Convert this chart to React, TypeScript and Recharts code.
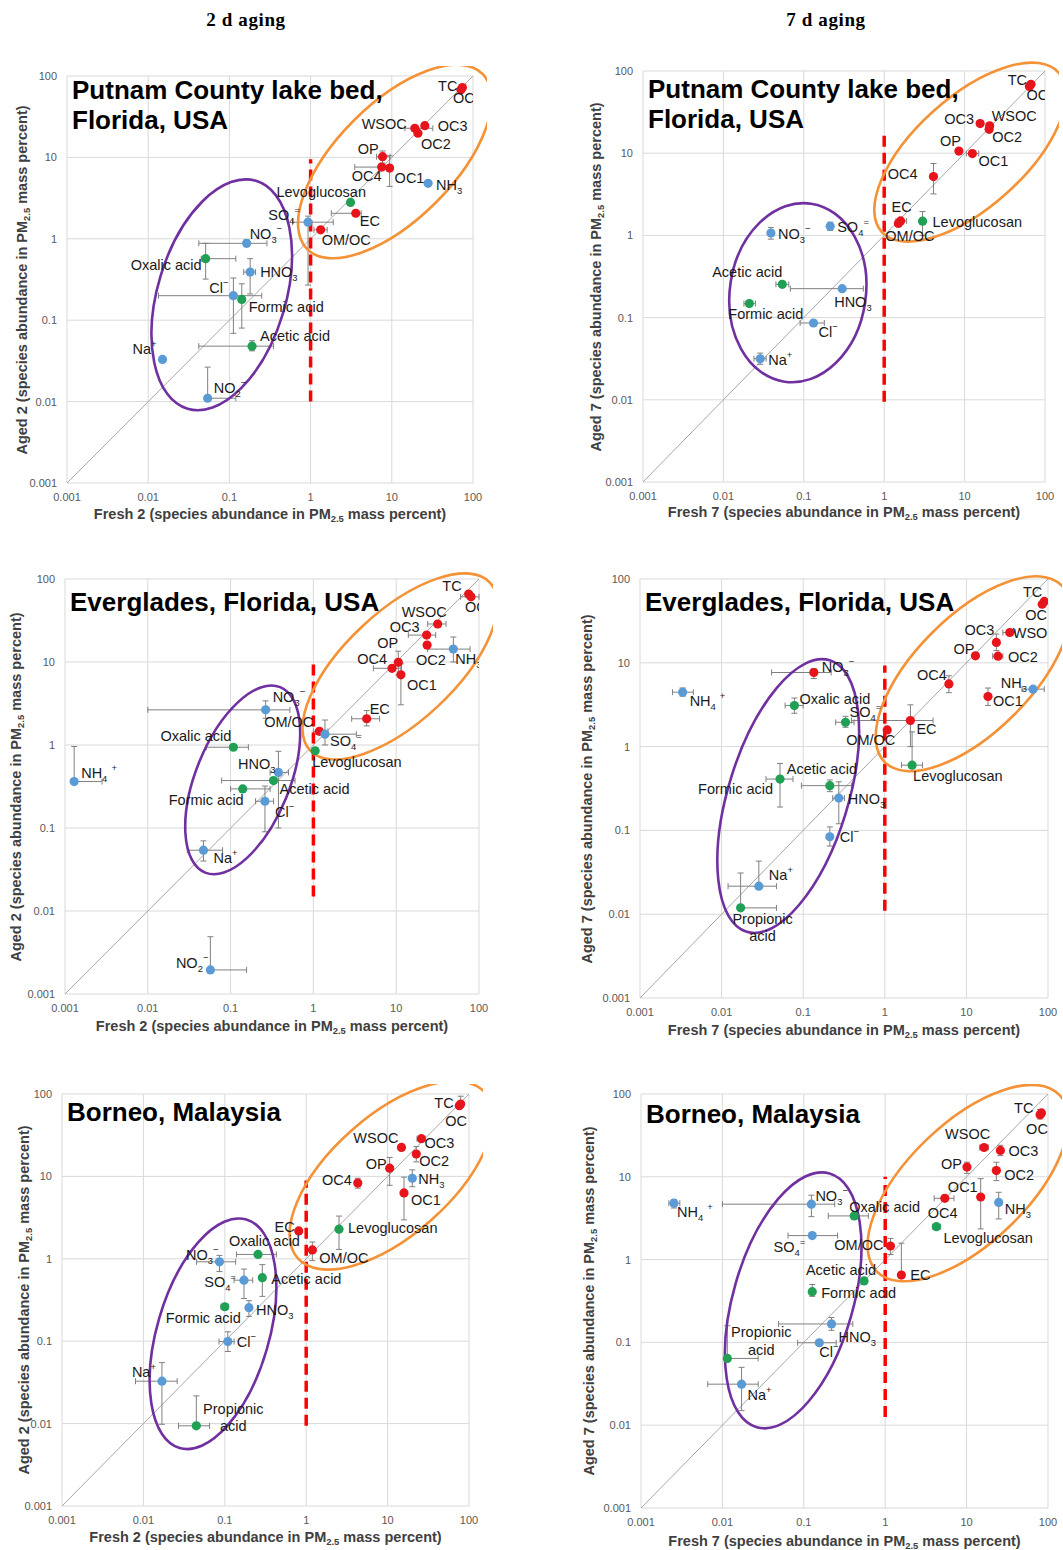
import React from "react";
import {
  ScatterChart,
  Scatter,
  XAxis,
  YAxis,
  CartesianGrid,
  ReferenceLine,
  ReferenceDot,
  ErrorBar,
} from "recharts";

// c = carbon fractions (red), i = ions (blue), a = organic acids / levoglucosan (green)
type Group = "c" | "i" | "a";
type Range = [number, number];

const TICKS = [0.001, 0.01, 0.1, 1, 10, 100];

// ---------- Putnam County, 2 d ----------
const p1Names = ["TC", "OC", "WSOC", "OC3", "OC2", "OP", "OC4", "OC1", "NH3", "Levoglucosan", "EC", "SO4=", "OM/OC", "NO3-", "Oxalic acid", "HNO3", "Cl-", "Formic acid", "Acetic acid", "Na+", "NO2-"];
const p1Fresh = [74, 71, 19.2, 25.5, 21, 7.7, 7.5, 9.4, 28, 3.1, 3.6, 0.93, 1.33, 0.163, 0.051, 0.18, 0.112, 0.142, 0.19, 0.015, 0.054];
const p1Aged = [72, 68, 22.8, 24.5, 19.8, 10.2, 7.6, 7.4, 4.8, 2.8, 2.06, 1.6, 1.29, 0.88, 0.57, 0.39, 0.2, 0.18, 0.048, 0.033, 0.011];
const p1Groups: Group[] = ["c", "c", "c", "c", "c", "c", "c", "c", "i", "a", "c", "i", "c", "i", "a", "i", "i", "a", "a", "i", "i"];
const p1FreshRange: Record<string, Range> = { WSOC: [14.5, 32], OP: [6.5, 9.5], OC4: [3.5, 10], EC: [1.8, 4.2], "SO4=": [0.6, 1.9], "OM/OC": [1.1, 1.6], "NO3-": [0.042, 0.29], "Oxalic acid": [0.045, 0.12], HNO3: [0.15, 0.21], "Cl-": [0.0134, 0.25], "Acetic acid": [0.042, 0.35], "NO2-": [0.05, 0.12] };
const p1AgedRange: Record<string, Range> = { OP: [8.5, 12], OC1: [4.4, 10.5], "SO4=": [0.27, 1.9], "NO3-": [0.8, 0.97], "Oxalic acid": [0.32, 0.88], HNO3: [0.21, 0.57], "Cl-": [0.069, 0.33], "Formic acid": [0.08, 0.28], "Acetic acid": [0.042, 0.056], "NO2-": [0.011, 0.0265] };

// ---------- Putnam County, 7 d ----------
const p2Names = ["TC", "OC", "OC3", "WSOC", "OC2", "OP", "OC1", "OC4", "EC", "OM/OC", "Levoglucosan", "NO3-", "SO4=", "Acetic acid", "HNO3", "Formic acid", "Cl-", "Na+"];
const p2Fresh = [67, 64, 15.6, 20.5, 20.2, 8.5, 12.5, 4.1, 1.6, 1.5, 3.0, 0.039, 0.213, 0.054, 0.3, 0.021, 0.132, 0.0287];
const p2Aged = [69, 65, 22.9, 21.5, 19.5, 10.6, 9.9, 5.2, 1.5, 1.4, 1.49, 1.07, 1.29, 0.254, 0.225, 0.148, 0.086, 0.0316];
const p2Groups: Group[] = ["c", "c", "c", "c", "c", "c", "c", "c", "c", "c", "a", "i", "i", "a", "i", "a", "i", "i"];
const p2FreshRange: Record<string, Range> = { OC1: [10.5, 15], EC: [1.4, 1.9], "Acetic acid": [0.045, 0.065], HNO3: [0.068, 0.55], "Formic acid": [0.018, 0.025], "Cl-": [0.09, 0.18], "Na+": [0.024, 0.034] };
const p2AgedRange: Record<string, Range> = { OC4: [3.2, 7.5], Levoglucosan: [1.0, 1.95], "NO3-": [0.9, 1.25], "SO4=": [1.15, 1.45], "Na+": [0.027, 0.037] };

// ---------- Everglades, 2 d ----------
const p3Names = ["TC", "OC", "WSOC", "OC3", "OC2", "NH3", "OP", "OC4", "OC1", "EC", "OM/OC", "SO4=", "Levoglucosan", "NO3-", "Oxalic acid", "HNO3", "Acetic acid", "Formic acid", "Cl-", "Na+", "NH4+", "NO2-"];
const p3Fresh = [75, 80, 31.7, 23.3, 23.6, 49, 10.6, 8.9, 11.4, 4.4, 1.18, 1.38, 1.05, 0.265, 0.108, 0.378, 0.33, 0.14, 0.26, 0.047, 0.00129, 0.057];
const p3Aged = [66, 61, 28.7, 21.1, 16, 14.3, 9.9, 8.4, 7.0, 2.07, 1.46, 1.35, 0.85, 2.65, 0.94, 0.467, 0.373, 0.296, 0.21, 0.054, 0.363, 0.00195];
const p3Groups: Group[] = ["c", "c", "c", "c", "c", "i", "c", "c", "c", "c", "c", "i", "a", "i", "a", "i", "a", "a", "i", "i", "i", "i"];
const p3FreshRange: Record<string, Range> = { OC: [60, 100], WSOC: [24, 40], OC3: [14, 30], NH3: [24, 78], OC4: [5.3, 11.6], EC: [2.9, 6.3], "OM/OC": [1.0, 1.5], "SO4=": [1.0, 3.3], "NO3-": [0.01, 0.52], "Oxalic acid": [0.051, 0.164], HNO3: [0.3, 0.5], "Acetic acid": [0.078, 0.6], "Formic acid": [0.1, 0.3], "Cl-": [0.2, 0.33], "Na+": [0.03, 0.08], "NH4+": [0.00129, 0.0028], "NO2-": [0.057, 0.156] };
const p3AgedRange: Record<string, Range> = { NH3: [10, 20], OP: [7, 13.5], OC1: [3.05, 9.5], EC: [1.7, 2.6], "SO4=": [1.0, 2.0], "NO3-": [2.1, 3.4], HNO3: [0.1, 0.84], "Cl-": [0.09, 0.32], "Na+": [0.04, 0.07], "NH4+": [0.363, 0.96], "NO2-": [0.00195, 0.0049] };

// ---------- Everglades, 7 d ----------
const p4Names = ["TC", "OC", "WSOC", "OC3", "OP", "OC2", "OC4", "NH3", "OC1", "EC", "OM/OC", "SO4=", "Levoglucosan", "NO3-", "NH4+", "Oxalic acid", "Formic acid", "Acetic acid", "HNO3", "Cl-", "Na+", "Propionic acid"];
const p4Fresh = [90, 85, 34, 23.3, 12.9, 24.4, 6.1, 65.5, 18.4, 2.06, 1.07, 0.33, 2.16, 0.135, 0.00333, 0.078, 0.052, 0.212, 0.273, 0.212, 0.0286, 0.0171];
const p4Aged = [54, 50, 23, 17.5, 12.1, 12.0, 5.6, 4.85, 3.96, 2.05, 1.58, 1.95, 0.6, 7.66, 4.46, 3.09, 0.41, 0.342, 0.243, 0.084, 0.0216, 0.0119];
const p4Groups: Group[] = ["c", "c", "c", "c", "c", "c", "c", "i", "c", "c", "c", "a", "a", "c", "i", "a", "a", "a", "i", "i", "i", "a"];
const p4FreshRange: Record<string, Range> = { WSOC: [28, 40], OC2: [21, 28], NH3: [48, 90], EC: [0.39, 3.9], "SO4=": [0.25, 0.42], Levoglucosan: [1.6, 2.9], "NO3-": [0.041, 0.22], "NH4+": [0.0025, 0.0045], "Oxalic acid": [0.06, 0.1], "Formic acid": [0.035, 0.075], "Acetic acid": [0.095, 0.39], HNO3: [0.23, 0.32], "Na+": [0.012, 0.047], "Propionic acid": [0.0171, 0.047] };
const p4AgedRange: Record<string, Range> = { OC3: [14, 22], OC4: [4.4, 7], OC1: [3.1, 5.0], EC: [1.0, 3.15], "SO4=": [1.7, 2.3], Levoglucosan: [0.6, 1.5], "NO3-": [6.5, 8.5], "NH4+": [4.0, 5.0], "Oxalic acid": [2.5, 3.8], "Formic acid": [0.19, 0.63], "Acetic acid": [0.29, 0.4], HNO3: [0.12, 0.38], "Cl-": [0.065, 0.11], "Na+": [0.0216, 0.043], "Propionic acid": [0.0119, 0.031] };

// ---------- Borneo, 2 d ----------
const p5Names = ["TC", "OC", "WSOC", "OC3", "OC2", "OP", "NH3", "OC4", "OC1", "Levoglucosan", "EC", "OM/OC", "NO3-", "Oxalic acid", "SO4=", "Acetic acid", "Formic acid", "HNO3", "Cl-", "Na+", "Propionic acid"];
const p5Fresh = [79, 76, 14.8, 26, 22.5, 10.6, 20.1, 4.3, 15.9, 2.53, 0.81, 1.19, 0.086, 0.256, 0.172, 0.289, 0.1, 0.198, 0.109, 0.0169, 0.0447];
const p5Aged = [75.5, 72, 22.5, 28.7, 18.7, 12.6, 9.5, 8.3, 6.3, 2.29, 2.18, 1.28, 0.92, 1.13, 0.55, 0.59, 0.262, 0.255, 0.099, 0.0327, 0.0094];
const p5Groups: Group[] = ["c", "c", "c", "c", "c", "c", "i", "c", "c", "a", "c", "c", "i", "a", "i", "a", "a", "i", "i", "i", "a"];
const p5FreshRange: Record<string, Range> = { OC3: [23, 29], "NO3-": [0.045, 0.136], "Oxalic acid": [0.139, 0.43], "SO4=": [0.13, 0.22], "Formic acid": [0.09, 0.11], "Cl-": [0.085, 0.13], "Na+": [0.008, 0.026], "Propionic acid": [0.027, 0.065] };
const p5AgedRange: Record<string, Range> = { TC: [75.5, 94], OC2: [15, 23], OP: [7.8, 17], NH3: [7.5, 12], OC4: [7.2, 9.5], OC1: [2.97, 9.8], Levoglucosan: [1.3, 3.3], "OM/OC": [0.95, 1.6], "NO3-": [0.7, 1.1], "SO4=": [0.33, 0.75], "Acetic acid": [0.35, 0.85], HNO3: [0.2, 0.31], "Cl-": [0.075, 0.13], "Na+": [0.0098, 0.055], "Propionic acid": [0.0094, 0.0217] };

// ---------- Borneo, 7 d ----------
const p6Names = ["TC", "OC", "WSOC", "OC3", "OP", "OC2", "OC1", "OC4", "NH3", "Levoglucosan", "OM/OC", "EC", "NH4+", "NO3-", "Oxalic acid", "SO4=", "Acetic acid", "Formic acid", "HNO3", "Cl-", "Propionic acid", "Na+"];
const p6Fresh = [83, 80, 16.4, 26, 10.1, 23.2, 14.9, 5.4, 24.8, 4.26, 1.16, 1.58, 0.00254, 0.124, 0.416, 0.127, 0.55, 0.127, 0.219, 0.155, 0.0115, 0.0172];
const p6Aged = [59, 56, 22.6, 20.8, 13.1, 11.9, 5.7, 5.5, 4.9, 2.5, 1.46, 0.65, 4.8, 4.67, 3.37, 1.95, 0.552, 0.41, 0.167, 0.099, 0.064, 0.0313];
const p6Groups: Group[] = ["c", "c", "c", "c", "c", "c", "c", "c", "i", "a", "c", "c", "i", "i", "a", "i", "a", "a", "i", "i", "a", "i"];
const p6FreshRange: Record<string, Range> = { WSOC: [14.5, 18.5], OC4: [4, 7], Levoglucosan: [3.8, 4.8], "NH4+": [0.0022, 0.003], "NO3-": [0.01, 0.24], "Oxalic acid": [0.2, 0.62], "SO4=": [0.064, 0.26], HNO3: [0.049, 0.4], "Cl-": [0.084, 0.25], "Propionic acid": [0.0115, 0.0275], "Na+": [0.0066, 0.0275] };
const p6AgedRange: Record<string, Range> = { OC: [50, 65], OC3: [18, 24], OP: [11, 15], OC2: [9, 15], OC1: [2.35, 9.5], NH3: [3.1, 6.5], "OM/OC": [1.15, 1.8], EC: [0.65, 1.58], "NH4+": [4.2, 5.3], "NO3-": [3.3, 6.0], "Formic acid": [0.36, 0.5], HNO3: [0.14, 0.2], "Propionic acid": [0.064, 0.159], "Na+": [0.015, 0.05] };

// how a species name is typeset (_x subscript, ^x superscript)
const LABEL_TEXT: Record<string, string> = {
  NH3: "NH_3",
  "NH4+": "NH_4 ^+",
  "NO3-": "NO_3^-",
  "NO2-": "NO_2^-",
  "SO4=": "SO_4^=",
  HNO3: "HNO_3",
  "Na+": "Na^+",
  "Cl-": "Cl^-",
  "Propionic acid": "Propionic\nacid",
};

const COLORS: Record<Group, string> = { c: "#e8141c", i: "#5b9bd5", a: "#1fa055" };

type Off = [number, number, "s" | "e" | "m"];

const p1Labels: Record<string, Off> = { TC: [-5, -2, "e"], OC: [-8, 8, "s"], WSOC: [-8, -4, "e"], OC3: [13, 0, "s"], OC2: [3, 11, "s"], OP: [-4, -8, "e"], OC4: [0, 9, "e"], OC1: [5, 10, "s"], NH3: [8, 2, "s"], Levoglucosan: [-74, -10, "s"], EC: [4, 8, "s"], "SO4=": [-8, -7, "e"], "OM/OC": [1, 10, "s"], "NO3-": [3, -9, "s"], "Oxalic acid": [-4, 6, "e"], HNO3: [10, 0, "s"], "Cl-": [-5, -8, "e"], "Formic acid": [7, 8, "s"], "Acetic acid": [8, -10, "s"], "Na+": [-6, -10, "e"], "NO2-": [6, -10, "s"] };
const p2Labels: Record<string, Off> = { TC: [-4, -4, "e"], OC: [-3, 9, "s"], OC3: [-6, -5, "e"], WSOC: [2, -10, "s"], OC2: [3, 8, "s"], OP: [2, -10, "e"], OC1: [6, 7, "s"], OC4: [-16, -3, "e"], EC: [-9, -14, "s"], "OM/OC": [-13, 13, "s"], Levoglucosan: [10, 1, "s"], "NO3-": [7, 1, "s"], "SO4=": [7, 1, "s"], "Acetic acid": [0, -12, "e"], HNO3: [-8, 13, "s"], "Formic acid": [-21, 10, "s"], "Cl-": [5, 9, "s"], "Na+": [8, 1, "s"] };
const p3Labels: Record<string, Off> = { TC: [-7, -8, "e"], OC: [-6, 10, "s"], WSOC: [-36, -12, "s"], OC3: [-7, -8, "e"], OC2: [-11, 15, "s"], OP: [0, -19, "e"], OC4: [-5, -9, "e"], NH3: [2, 10, "s"], OC1: [6, 10, "s"], EC: [3, -10, "s"], "OM/OC": [-6, -9, "e"], "SO4=": [5, 7, "s"], Levoglucosan: [-3, 11, "s"], "NO3-": [7, -13, "s"], "Oxalic acid": [-2, -11, "e"], HNO3: [-3, -8, "e"], "Acetic acid": [6, 8, "s"], "Formic acid": [1, 11, "e"], "Cl-": [10, 11, "s"], "Na+": [10, 8, "s"], "NH4+": [7, -9, "s"], "NO2-": [-2, -7, "e"] };
const p4Labels: Record<string, Off> = { TC: [-2, -9, "e"], OC: [-17, 11, "s"], OC3: [-2, -12, "e"], WSOC: [3, 1, "s"], OP: [-1, -7, "e"], OC2: [10, 1, "s"], OC4: [-2, -9, "e"], NH3: [-6, -6, "e"], OC1: [5, 4, "s"], EC: [6, 9, "s"], "OM/OC": [-41, 10, "s"], "SO4=": [4, -10, "s"], Levoglucosan: [1, 11, "s"], "NO3-": [8, -6, "s"], "NH4+": [7, 9, "s"], "Oxalic acid": [5, -7, "s"], "Acetic acid": [-43, -17, "s"], "Formic acid": [-7, 10, "e"], HNO3: [9, 1, "s"], "Cl-": [10, 0, "s"], "Na+": [10, -11, "s"], "Propionic acid": [22, 11, "m"] };
const p5Labels: Record<string, Off> = { TC: [-7, -1, "e"], OC: [-14, 15, "s"], WSOC: [-3, -9, "e"], OC3: [3, 4, "s"], OP: [-3, -4, "e"], OC2: [3, 7, "s"], NH3: [6, 1, "s"], OC4: [-6, -3, "e"], OC1: [7, 7, "s"], Levoglucosan: [9, -1, "s"], EC: [-4, -4, "e"], "OM/OC": [7, 8, "s"], "NO3-": [-1, -7, "e"], "Oxalic acid": [-29, -13, "s"], "SO4=": [-8, 2, "e"], "Acetic acid": [9, 1, "s"], "Formic acid": [-59, 11, "s"], HNO3: [7, 2, "s"], "Cl-": [9, 0, "s"], "Na+": [-6, -9, "e"], "Propionic acid": [37, -17, "m"] };
const p6Labels: Record<string, Off> = { TC: [-8, -5, "e"], OC: [-14, 14, "s"], WSOC: [-39, -13, "s"], OC3: [8, 1, "s"], OP: [-5, -3, "e"], OC2: [8, 4, "s"], OC1: [-3, -10, "e"], OC4: [-17, 15, "s"], NH3: [6, 7, "s"], Levoglucosan: [7, 11, "s"], "OM/OC": [-7, -1, "e"], EC: [9, 0, "s"], "NH4+": [3, 9, "s"], "NO3-": [4, -8, "s"], "Oxalic acid": [-5, -9, "s"], "SO4=": [-7, 11, "e"], "Acetic acid": [12, -11, "e"], "Formic acid": [9, 1, "s"], HNO3: [7, 13, "s"], "Cl-": [0, 9, "s"], "Propionic acid": [34, -26, "m"], "Na+": [6, 11, "s"] };

interface Ell { x: number; y: number; rx: number; ry: number; rot: number; color: string }
const PURPLE = "#7030a0";
const ORANGE = "#f39237";

interface PanelCfg {
  plot: { left: number; top: number; w: number; h: number };
  names: string[];
  fresh: number[];
  aged: number[];
  groups: Group[];
  xr: Record<string, Range>;
  yr: Record<string, Range>;
  labels: Record<string, Off>;
  ellipses: Ell[];
  dash: Range;
  title: string[];
  titleTop: number;
  day: number;
  yTitleX: number;
  xTitleY: number;
}

const panels: PanelCfg[] = [
  {
    plot: { left: 67, top: 76, w: 406, h: 407 }, names: p1Names, fresh: p1Fresh, aged: p1Aged, groups: p1Groups, xr: p1FreshRange, yr: p1AgedRange, labels: p1Labels,
    ellipses: [{ x: 0.0805, y: 0.205, rx: 119, ry: 64, rot: -73.3, color: PURPLE }, { x: 10.9, y: 8.9, rx: 124, ry: 58, rot: -45, color: ORANGE }],
    dash: [0.01, 9.5], title: ["Putnam County lake bed,", "Florida, USA"], titleTop: 75, day: 2, yTitleX: 23, xTitleY: 515,
  },
  {
    plot: { left: 643, top: 71, w: 402, h: 411 }, names: p2Names, fresh: p2Fresh, aged: p2Aged, groups: p2Groups, xr: p2FreshRange, yr: p2AgedRange, labels: p2Labels,
    ellipses: [{ x: 0.0843, y: 0.201, rx: 90, ry: 68, rot: -81.5, color: PURPLE }, { x: 11.7, y: 10.3, rx: 119, ry: 55, rot: -42, color: ORANGE }],
    dash: [0.0095, 18], title: ["Putnam County lake bed,", "Florida, USA"], titleTop: 74, day: 7, yTitleX: 597, xTitleY: 513,
  },
  {
    plot: { left: 65, top: 579, w: 414, h: 415 }, names: p3Names, fresh: p3Fresh, aged: p3Aged, groups: p3Groups, xr: p3FreshRange, yr: p3AgedRange, labels: p3Labels,
    ellipses: [{ x: 0.14, y: 0.38, rx: 100, ry: 47, rot: -68, color: PURPLE }, { x: 11.1, y: 8.85, rx: 123, ry: 55, rot: -43, color: ORANGE }],
    dash: [0.015, 10.9], title: ["Everglades, Florida, USA"], titleTop: 587, day: 2, yTitleX: 17, xTitleY: 1027,
  },
  {
    plot: { left: 640, top: 579, w: 408, h: 419 }, names: p4Names, fresh: p4Fresh, aged: p4Aged, groups: p4Groups, xr: p4FreshRange, yr: p4AgedRange, labels: p4Labels,
    ellipses: [{ x: 0.0655, y: 0.257, rx: 142, ry: 60, rot: -73, color: PURPLE }, { x: 12.1, y: 7.4, rx: 125, ry: 58, rot: -45, color: ORANGE }],
    dash: [0.011, 9.3], title: ["Everglades, Florida, USA"], titleTop: 587, day: 7, yTitleX: 588, xTitleY: 1031,
  },
  {
    plot: { left: 62, top: 1094, w: 407, h: 412 }, names: p5Names, fresh: p5Fresh, aged: p5Aged, groups: p5Groups, xr: p5FreshRange, yr: p5AgedRange, labels: p5Labels,
    ellipses: [{ x: 0.0716, y: 0.123, rx: 119, ry: 56, rot: -73.7, color: PURPLE }, { x: 11.1, y: 10.3, rx: 125, ry: 60, rot: -41.5, color: ORANGE }],
    dash: [0.0094, 8.9], title: ["Borneo, Malaysia"], titleTop: 1097, day: 2, yTitleX: 25, xTitleY: 1538,
  },
  {
    plot: { left: 641, top: 1094, w: 407, h: 414 }, names: p6Names, fresh: p6Fresh, aged: p6Aged, groups: p6Groups, xr: p6FreshRange, yr: p6AgedRange, labels: p6Labels,
    ellipses: [{ x: 0.0741, y: 0.322, rx: 132, ry: 60, rot: -74, color: PURPLE }, { x: 10.4, y: 8.4, rx: 127, ry: 60, rot: -44, color: ORANGE }],
    dash: [0.0126, 10], title: ["Borneo, Malaysia"], titleTop: 1099, day: 7, yTitleX: 590, xTitleY: 1542,
  },
];

const FONT = '"Liberation Sans", Arial, sans-serif';

function rich(s: string) {
  const out: React.ReactNode[] = [];
  const re = /_(\S)|\^(\S)|([^_^]+)/g;
  let m: RegExpExecArray | null;
  let k = 0;
  while ((m = re.exec(s))) {
    if (m[1]) out.push(<tspan key={k++} fontSize="0.65em" baselineShift="sub">{m[1]}</tspan>);
    else if (m[2]) out.push(<tspan key={k++} fontSize="0.65em" baselineShift="super">{m[2] === "-" ? "\u2212" : m[2]}</tspan>);
    else out.push(<tspan key={k++}>{m[3]}</tspan>);
  }
  return out;
}

const dotShape = (p: any) => <circle cx={p.cx} cy={p.cy} r={4.6} fill={COLORS[p.payload.group as Group]} />;

const labelShape = (offsets: Record<string, Off>) => (p: any) => {
  const name: string = p.payload.name;
  const [dx, dy, a] = offsets[name] || [6, 0, "s"];
  const anchor = a === "e" ? "end" : a === "m" ? "middle" : "start";
  const lines = (LABEL_TEXT[name] ?? name).split("\n");
  return (
    <g>
      {lines.map((ln, k) => (
        <text key={k} x={p.cx + dx} y={p.cy + dy + k * 17.5} textAnchor={anchor} dominantBaseline="central" fontSize={14.5} fontFamily={FONT} fill="#1a1a1a">
          {rich(ln)}
        </text>
      ))}
    </g>
  );
};

const ellipseShape = (e: Ell) => (p: any) => (
  <ellipse cx={p.cx} cy={p.cy} rx={e.rx} ry={e.ry} transform={`rotate(${e.rot} ${p.cx} ${p.cy})`} fill="none" stroke={e.color} strokeWidth={2.6} />
);

const ML = 40, MT = 10, MR = 14, MB = 24;

function Panel({ cfg }: { cfg: PanelCfg }) {
  const { left, top, w, h } = cfg.plot;
  const data = cfg.names.map((name, i) => {
    const x = cfg.fresh[i];
    const y = cfg.aged[i];
    const xr = cfg.xr[name];
    const yr = cfg.yr[name];
    return {
      name, x, y, group: cfg.groups[i],
      ex: xr ? [x - xr[0], xr[1] - x] : undefined,
      ey: yr ? [y - yr[0], yr[1] - y] : undefined,
    };
  });

  return (
    <>
      <div style={{ position: "absolute", left: left - ML, top: top - MT }}>
        <ScatterChart width={w + ML + MR} height={h + MT + MB} margin={{ top: MT, right: MR, bottom: 0, left: 0 }}>
          <CartesianGrid stroke="#d9d9d9" strokeWidth={1} />
          <XAxis type="number" dataKey="x" scale="log" domain={[0.001, 100]} ticks={TICKS} allowDataOverflow
            tickFormatter={(v) => String(v)} axisLine={false} tickLine={false} tickSize={6} tickMargin={4} height={MB}
            tick={{ fontSize: 11, fill: "#595959", fontFamily: FONT }} />
          <YAxis type="number" dataKey="y" scale="log" domain={[0.001, 100]} ticks={TICKS} allowDataOverflow
            tickFormatter={(v) => String(v)} axisLine={false} tickLine={false} tickSize={6} tickMargin={4} width={ML}
            tick={{ fontSize: 11, fill: "#595959", fontFamily: FONT }} />
          <ReferenceLine segment={[{ x: 0.001, y: 0.001 }, { x: 100, y: 100 }]} stroke="#a6a6a6" strokeWidth={1} ifOverflow="visible" />
          {cfg.ellipses.map((e, k) => (
            <ReferenceDot key={k} x={e.x} y={e.y} r={1} ifOverflow="visible" shape={ellipseShape(e)} />
          ))}
          <Scatter data={data} shape={dotShape} isAnimationActive={false}>
            <ErrorBar dataKey="ex" direction="x" width={3} stroke="#808080" strokeWidth={1} isAnimationActive={false} />
            <ErrorBar dataKey="ey" direction="y" width={3} stroke="#808080" strokeWidth={1} isAnimationActive={false} />
          </Scatter>
          <Scatter data={data} shape={labelShape(cfg.labels)} isAnimationActive={false} />
          <ReferenceLine segment={[{ x: 1, y: cfg.dash[0] }, { x: 1, y: cfg.dash[1] }]} stroke="#ff0000" strokeWidth={3.5} strokeDasharray="11 6" ifOverflow="visible" />
        </ScatterChart>
      </div>
      <div style={{ position: "absolute", left: left + 5, top: cfg.titleTop, font: `bold 26px ${FONT}`, lineHeight: "30px", color: "#000", whiteSpace: "nowrap" }}>
        {cfg.title.map((t, k) => <div key={k}>{t}</div>)}
      </div>
      <div style={{ position: "absolute", left: left + w / 2, top: cfg.xTitleY, transform: "translate(-50%, -50%)", font: `bold 14.5px ${FONT}`, color: "#404040", whiteSpace: "nowrap" }}>
        Fresh {cfg.day} (species abundance in PM<sub style={{ fontSize: "0.65em" }}>2.5</sub> mass percent)
      </div>
      <div style={{ position: "absolute", left: cfg.yTitleX, top: top + h / 2, transform: "translate(-50%, -50%) rotate(-90deg)", font: `bold 14.5px ${FONT}`, color: "#404040", whiteSpace: "nowrap" }}>
        Aged {cfg.day} (species abundance in PM<sub style={{ fontSize: "0.65em" }}>2.5</sub> mass percent)
      </div>
    </>
  );
}

export default function App() {
  const head: React.CSSProperties = { position: "absolute", top: 20, transform: "translate(-50%, -50%)", font: 'bold 19px "Liberation Serif", "Times New Roman", serif', letterSpacing: "0.6px", whiteSpace: "nowrap" };
  return (
    <div style={{ position: "absolute", left: 0, top: 0, width: 1063, height: 1550, background: "#fff", fontFamily: FONT }}>
      <div style={{ ...head, left: 246 }}>2 d aging</div>
      <div style={{ ...head, left: 826 }}>7 d aging</div>
      {panels.map((p, i) => <Panel key={i} cfg={p} />)}
    </div>
  );
}
